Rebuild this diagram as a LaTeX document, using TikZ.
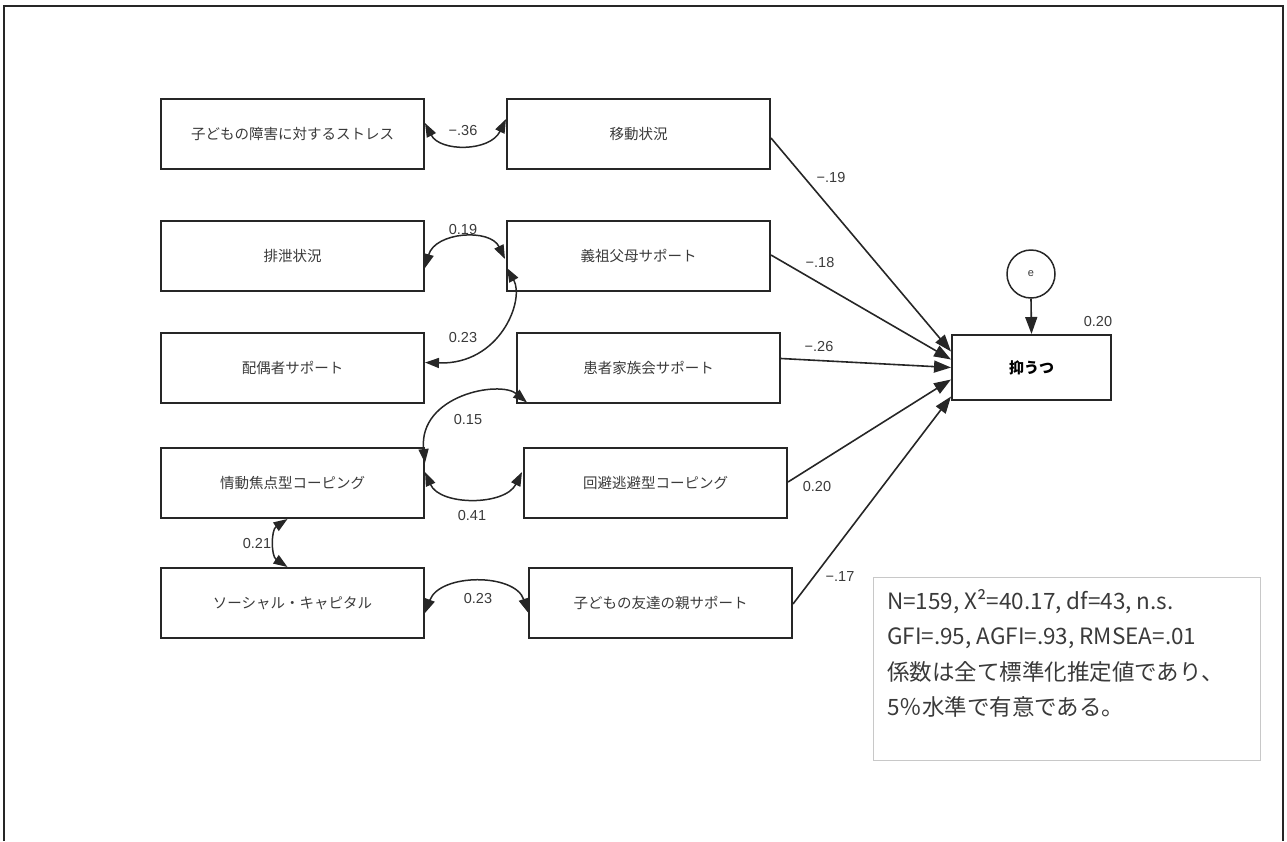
\documentclass[tikz,border=0pt]{standalone}
\usepackage{fontspec}
\setmainfont{Liberation Sans}
\newfontfamily\jp{Noto Sans CJK JP}
\usetikzlibrary{arrows.meta,calc}
\definecolor{ink}{HTML}{262626}
\definecolor{txt}{HTML}{3A3A3A}
\definecolor{notegray}{HTML}{C8C8C8}
\begin{document}
\begin{tikzpicture}[x=1pt,y=-1pt,
 varbox/.style={draw=ink,line width=2pt,minimum width=263pt,minimum height=70pt,inner sep=0pt,font=\jp\fontsize{14.5}{17}\selectfont,text=txt},
 pathar/.style={draw=ink,line width=1.6pt,-{Triangle[length=17pt,width=12pt]}},
 cov/.style={draw=ink,line width=1.5pt,{Triangle[length=14pt,width=10pt]}-{Triangle[length=14pt,width=10pt]}},
 coef/.style={font=\fontsize{14.5}{16}\selectfont,text=txt,inner sep=0pt}]
\useasboundingbox (0,0) rectangle (1287,841);
\draw[line width=2.5pt,ink] (4,841) -- (4,6) -- (1283,6) -- (1283,841);

\node[varbox] (st) at (292.5,134) {子どもの障害に対するストレス};
\node[varbox] (hs) at (292.5,256) {排泄状況};
\node[varbox] (hg) at (292.5,367.5) {配偶者サポート};
\node[varbox] (jd) at (292.5,483) {情動焦点型コーピング};
\node[varbox] (sc) at (292.5,603) {ソーシャル・キャピタル};
\node[varbox] (mv) at (638.5,134) {移動状況};
\node[varbox] (gf) at (638.5,256) {義祖父母サポート};
\node[varbox] (kz) at (648.5,367.5) {患者家族会サポート};
\node[varbox] (kh) at (655.5,483) {回避逃避型コーピング};
\node[varbox] (tm) at (660.5,602.5) {子どもの友達の親サポート};
\node[varbox,minimum width=159pt,minimum height=65pt,text=black,font=\jp\bfseries\fontsize{15}{18}\selectfont] (dep) at (1031.5,367.5) {抑うつ};
\node[draw=ink,line width=1.5pt,circle,minimum size=48pt,inner sep=0pt,font=\fontsize{11}{13}\selectfont,text=txt] (e) at (1031,274) {e};

\draw[pathar] ($(mv.east)+(0,4)$) -- ($(dep.west)+(0,-16)$);
\draw[pathar] ($(gf.east)+(0,-1)$) -- ($(dep.west)+(0,-8)$);
\draw[pathar] ($(kz.east)+(0,-9)$) -- ($(dep.west)+(0,0)$);
\draw[pathar] ($(kh.east)+(0,-1)$) -- ($(dep.west)+(0,12)$);
\draw[pathar] ($(tm.east)+(0,1.5)$) -- ($(dep.west)+(0,29)$);
\draw[pathar] (e.south) -- (dep.north);

\draw[cov] ($(st.east)+(0,-11)$) .. controls (440,152) and (490,152) .. ($(mv.west)+(0,-15)$);
\draw[cov] ($(hs.east)+(0,12)$) .. controls (435,232) and (490,228) .. ($(gf.west)+(-1,3)$);
\draw[cov] ($(gf.west)+(1,12)$) .. controls (525,300) and (500,365) .. ($(hg.east)+(0,-5)$);
\draw[cov] ($(kz.south west)+(11,-1)$) .. controls (500,380) and (418,395) .. ($(jd.east)+(0,-20)$);
\draw[cov] ($(jd.east)+(0,-11)$) .. controls (440,506) and (505,506) .. ($(kh.west)+(-1,-11)$);
\draw[cov] ($(jd.south)+(-5,0)$) .. controls (271,530) and (271,556) .. ($(sc.north)+(-5,0)$);
\draw[cov] ($(sc.east)+(0,10)$) .. controls (440,573) and (515,573) .. ($(tm.west)+(0,10)$);

\node[coef] (c1) at (463,131) {−.36};
\node[coef] (c2) at (463,230) {0.19};
\node[coef] (c3) at (463,338) {0.23};
\node[coef] (c4) at (468,420) {0.15};
\node[coef] (c5) at (472,515) {0.41};
\node[coef] (c6) at (257,543) {0.21};
\node[coef] (c7) at (478,598) {0.23};
\node[coef] (p1) at (831,178) {−.19};
\node[coef] (p2) at (820,263) {−.18};
\node[coef] (p3) at (819,347) {−.26};
\node[coef] (p4) at (817,486) {0.20};
\node[coef] (p5) at (840,577) {−.17};
\node[coef] (r2) at (1098,322) {0.20};

\node[draw=notegray,line width=1.2pt,minimum width=387pt,minimum height=183pt,anchor=north west,inner sep=0pt] (note) at (873,577) {};
\node[anchor=north west,align=left,inner sep=0pt,font=\jp\fontsize{22.5}{35.5}\selectfont,text=txt] (notet) at (887,589) {N=159, X²=40.17, df=43, n.s.\\GFI=.95, AGFI=.93, RMSEA=.01\\係数は全て標準化推定値であり、\\5％水準で有意である。};
\end{tikzpicture}
\end{document}
